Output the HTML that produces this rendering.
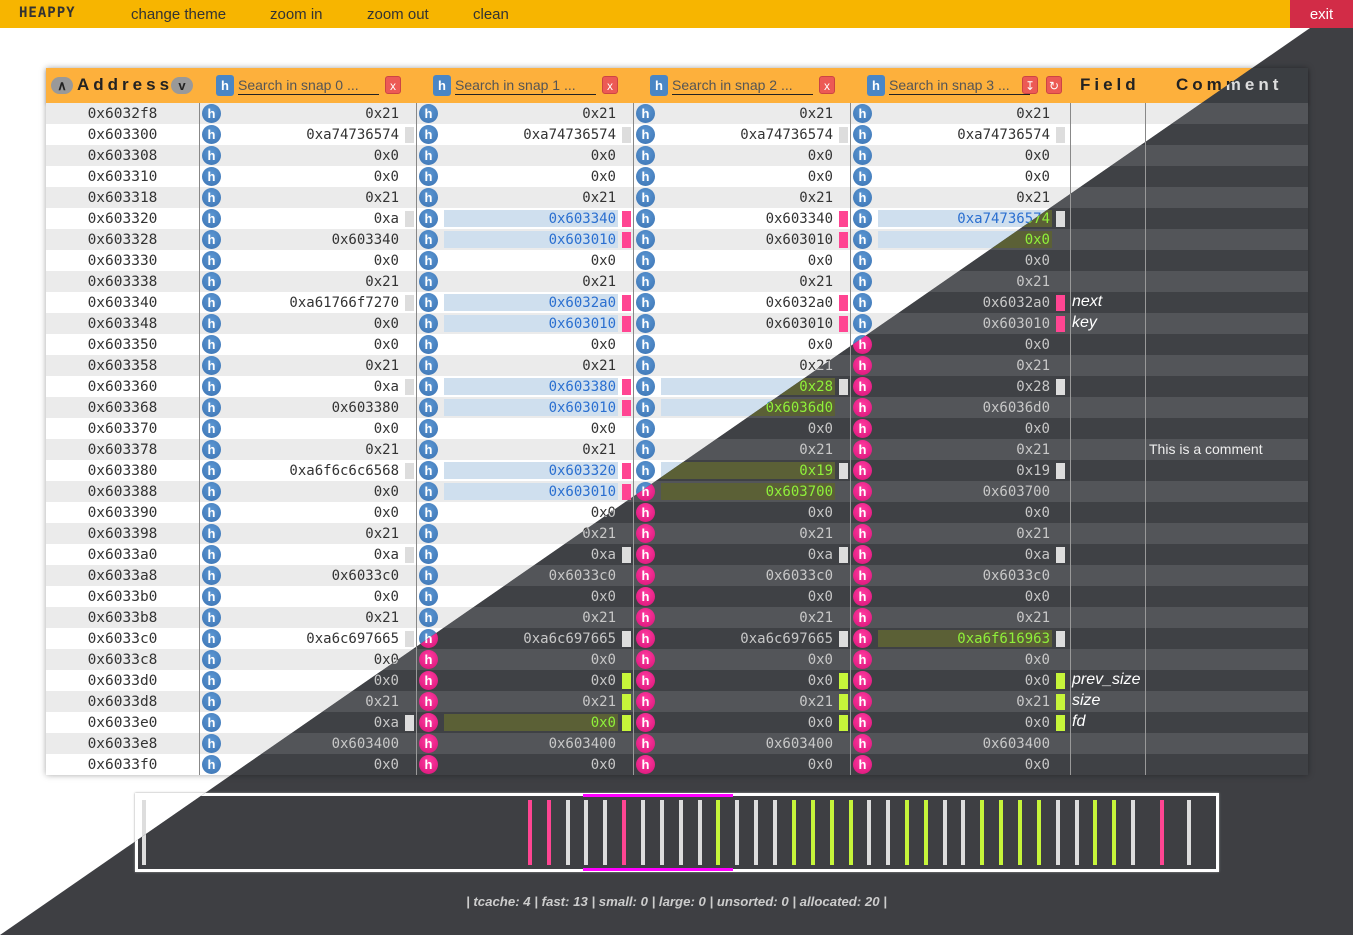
<!DOCTYPE html>
<html><head><meta charset="utf-8">
<style>
*{box-sizing:border-box;margin:0;padding:0}
body{width:1353px;height:935px;overflow:hidden;font-family:"Liberation Sans",sans-serif;position:relative}
.layer{position:absolute;left:0;top:0;width:1353px;height:935px}
.light{background:#fff}
.dark{background:#3e3f43;clip-path:polygon(1310px 28px,1353px 28px,1353px 935px,0 935px)}
.nav{position:absolute;left:0;top:0;width:1353px;height:28px;background:#f7b500;color:#333;font-size:15px}
.nav span{position:absolute;top:6px}
.exit{position:absolute;left:1290px;top:0;width:63px;height:28px;background:#d22c47;color:#fff;font-size:15px;text-align:center;line-height:29px}
.tbl{position:absolute;left:46px;top:68px;width:1262px;height:707px;box-shadow:0 0 6px rgba(0,0,0,.35)}
.hdr{position:absolute;left:0;top:0;width:1262px;height:35px;background:#fdb03c;box-shadow:0 2px 3px rgba(0,0,0,.2)}
.dark .hdr{background:#3b3e42}
.row{position:absolute;left:0;width:1262px;height:21px}
.light .row.e{background:#ebebeb}.light .row.o{background:#fff}
.dark .row.e{background:#535559}.dark .row.o{background:#3f4145}
.mono{font-family:"DejaVu Sans Mono","Liberation Mono",monospace;font-size:14px}
.addr{position:absolute;left:0;width:153px;text-align:center;top:3px;color:#333;font-size:14.5px}
.dark .addr,.dark .val{color:#c8c8c8}
.vline{position:absolute;top:35px;width:1px;height:672px;background:#888}
.dark .vline{background:#999}
.ic{position:absolute;top:1px;width:19px;height:19px;border-radius:50%;background:radial-gradient(circle at 50% 35%,#5b96d2,#3b73b3);color:#fff;font-weight:bold;font-size:13px;text-align:center;line-height:19px}
.dark .ic{background:radial-gradient(circle at 50% 35%,#ff3aa0,#d81478)}
.val{position:absolute;top:2px;height:17px;width:174px;text-align:right;padding-right:2px;line-height:19px;color:#333}
.val.hl{background:#cfdfee;color:#2a6fd0}
.dark .val.hl{background:#5b6036;color:#8ff03a}
.mk{position:absolute;top:3px;width:9px;height:16px}
.mk.g{background:#ddd}.mk.p{background:#ff4592}.mk.l{background:#c6f53a}
.fld{position:absolute;left:1026px;top:1px;font-style:italic;font-size:16px;color:#222}
.dark .fld{color:#fff}
.cmt{position:absolute;left:1103px;top:2px;font-size:14px;color:#222}
.dark .cmt{color:#eee}
.htxt{position:absolute;top:7px;font-weight:bold;font-size:17px;letter-spacing:4px;color:#222}
.dark .htxt{color:#ddd}
.rb{position:absolute;top:9px;width:22px;height:17px;border-radius:9px;background:#999;color:#222;font-weight:bold;font-size:13px;text-align:center;line-height:17px}
.hb{position:absolute;top:7px;width:18px;height:21px;border-radius:3px;background:#4a86c5;color:#fff;font-weight:bold;font-size:13px;text-align:center;line-height:21px}
.xb{position:absolute;top:8px;width:16px;height:18px;border-radius:3px;background:#ec5a55;color:#fff;font-size:12px;text-align:center;line-height:18px;border:1px solid #c44}
.srch{position:absolute;top:8px;width:141px;height:19px;border-bottom:1px solid #222;font-size:14px;color:#555;line-height:19px;white-space:nowrap;overflow:hidden}
.dark .srch{color:#aaa;border-color:#aaa}
.mm{position:absolute;left:135px;top:793px;width:1084px;height:79px;border:3px solid #fff;box-shadow:0 0 2px #999}
.light .mm{background:#fff}.dark .mm{background:#3e3f43;border-color:#fff}
.ml{position:absolute;top:4px;width:4px;height:65px}
.brk{position:absolute;height:3px;background:#f0f}
.status{position:absolute;left:0;width:1353px;top:894px;text-align:center;font-style:italic;font-weight:bold;font-size:13.2px;color:#555}
.dark .status{color:#ccc}
</style></head><body>
<div class="layer light" id="L"></div>
<div class="layer dark" id="D"></div>
<script>
const addresses=["0x6032f8","0x603300","0x603308","0x603310","0x603318","0x603320","0x603328","0x603330","0x603338","0x603340","0x603348","0x603350","0x603358","0x603360","0x603368","0x603370","0x603378","0x603380","0x603388","0x603390","0x603398","0x6033a0","0x6033a8","0x6033b0","0x6033b8","0x6033c0","0x6033c8","0x6033d0","0x6033d8","0x6033e0","0x6033e8","0x6033f0"];
const snap0=["0x21","0xa74736574","0x0","0x0","0x21","0xa","0x603340","0x0","0x21","0xa61766f7270","0x0","0x0","0x21","0xa","0x603380","0x0","0x21","0xa6f6c6c6568","0x0","0x0","0x21","0xa","0x6033c0","0x0","0x21","0xa6c697665","0x0","0x0","0x21","0xa","0x603400","0x0"];
const snap1=["0x21","0xa74736574","0x0","0x0","0x21","0x603340","0x603010","0x0","0x21","0x6032a0","0x603010","0x0","0x21","0x603380","0x603010","0x0","0x21","0x603320","0x603010","0x0","0x21","0xa","0x6033c0","0x0","0x21","0xa6c697665","0x0","0x0","0x21","0x0","0x603400","0x0"];
const snap2=["0x21","0xa74736574","0x0","0x0","0x21","0x603340","0x603010","0x0","0x21","0x6032a0","0x603010","0x0","0x21","0x28","0x6036d0","0x0","0x21","0x19","0x603700","0x0","0x21","0xa","0x6033c0","0x0","0x21","0xa6c697665","0x0","0x0","0x21","0x0","0x603400","0x0"];
const snap3=["0x21","0xa74736574","0x0","0x0","0x21","0xa74736574","0x0","0x0","0x21","0x6032a0","0x603010","0x0","0x21","0x28","0x6036d0","0x0","0x21","0x19","0x603700","0x0","0x21","0xa","0x6033c0","0x0","0x21","0xa6f616963","0x0","0x0","0x21","0x0","0x603400","0x0"];
// markers: g=gray p=pink l=lime '-'=none
const mark0="-g---g---g---g---g---g---g---g--";
const mark1="-g---pp--pp--pp--pp--g---g-lll--";
const mark2="-g---pp--pp--g---g---g---g-lll--";
const mark3="-g---g---pp--g---g---g---g-lll--";
// highlighted cells: 1=highlighted
const hl1="00000110011001100110000000000100";
const hl2="00000000000001100110000000000000";
const hl3="00000110000000000000000001000000";
const fields={9:"next",10:"key",27:"prev_size",28:"size",29:"fd"};
const comments={16:"This is a comment"};
const minimapTypes=["g","p","p","g","g","g","p","g","g","g","g","l","g","g","g","l","l","l","l","g","g","l","l","g","g","l","l","l","l","g","g","l","l","g","p","g"];
const minimapPos=[144,530,549,568,586,605,624,643,662,681,700,718,737,756,775,794,813,832,851,869,888,907,926,945,963,982,1001,1020,1039,1058,1077,1095,1114,1133,1162,1189];
const snaps=[snap0,snap1,snap2,snap3];
const marks=[mark0,mark1,mark2,mark3];
const hls=["0".repeat(32),hl1,hl2,hl3];
const colX=[153,370,587,804];
const colors={g:"#ddd",p:"#ff4592",l:"#c6f53a"};

function build(root,dark){
  if(!dark){
    const nav=document.createElement('div');nav.className='nav';
    
    
    nav.innerHTML='<span style="left:19px;top:5px;font-family:\'DejaVu Sans Mono\',monospace;font-weight:bold;font-size:14px;letter-spacing:1px;color:#333">HEAPPY</span>'+
    '<span style="left:131px">change theme</span>'+
    '<span style="left:270px">zoom in</span>'+
    '<span style="left:367px">zoom out</span>'+
    '<span style="left:473px">clean</span>';
    root.appendChild(nav);
    const ex=document.createElement('div');ex.className='exit';ex.textContent='exit';
    
    
    root.appendChild(ex);
  }
  const t=document.createElement('div');t.className='tbl';
  
  
  let h='<div class="hdr">'+
   '<div class="rb" style="left:5px">&#x2227;</div>'+
   '<div class="htxt" style="left:31px">Address</div>'+
   '<div class="rb" style="left:125px">v</div>';
  for(let s=0;s<4;s++){
    const x=colX[s];
    h+='<div class="hb" style="left:'+(x+17)+'px">h</div>';
    h+='<div class="srch" style="left:'+(x+39)+'px">Search in snap '+s+' ...</div>';
    if(s<3) h+='<div class="xb" style="left:'+(x+186)+'px">x</div>';
    else h+='<div class="xb" style="left:'+(x+172)+'px">&#x21A7;</div><div class="xb" style="left:'+(x+196)+'px">&#x21BB;</div>';
  }
  h+='<div class="htxt" style="left:1034px">Field</div>';
  h+='<div class="htxt" style="left:1130px">Comment</div></div>';
  for(let r=0;r<addresses.length;r++){
    h+='<div class="row '+(r%2?'o':'e')+'" style="top:'+(35+r*21)+'px">';
    h+='<div class="addr mono">'+addresses[r]+'</div>';
    for(let s=0;s<4;s++){
      const x=colX[s];
      h+='<div class="ic" style="left:'+(x+3)+'px">h</div>';
      h+='<div class="val mono'+(hls[s][r]=='1'?' hl':'')+'" style="left:'+(x+28)+'px">'+snaps[s][r]+'</div>';
      const m=marks[s][r];
      if(m!='-') h+='<div class="mk '+m+'" style="left:'+(x+206)+'px"></div>';
    }
    if(fields[r]) h+='<div class="fld">'+fields[r]+'</div>';
    if(comments[r]) h+='<div class="cmt">'+comments[r]+'</div>';
    h+='</div>';
  }
  [153,370,587,804,1024,1099].forEach(x=>{h+='<div class="vline" style="left:'+x+'px"></div>';});
  t.innerHTML=h;
  root.appendChild(t);
  const mm=document.createElement('div');mm.className='mm';
  
  
  let mh='';
  for(let i=0;i<minimapTypes.length;i++){
    mh+='<div class="ml" style="left:'+(minimapPos[i]-135-3-2)+'px;background:'+colors[minimapTypes[i]]+'"></div>';
  }
  mh+='<div class="brk" style="left:445px;width:150px;top:-2px"></div>';
  mh+='<div class="brk" style="left:445px;width:150px;bottom:-2px"></div>';
  mm.innerHTML=mh;
  root.appendChild(mm);
  const st=document.createElement('div');st.className='status';
  
  
  st.textContent='| tcache: 4 | fast: 13 | small: 0 | large: 0 | unsorted: 0 | allocated: 20 |';
  root.appendChild(st);
}
build(document.getElementById('L'),false);
build(document.getElementById('D'),true);
</script>
</body></html>
